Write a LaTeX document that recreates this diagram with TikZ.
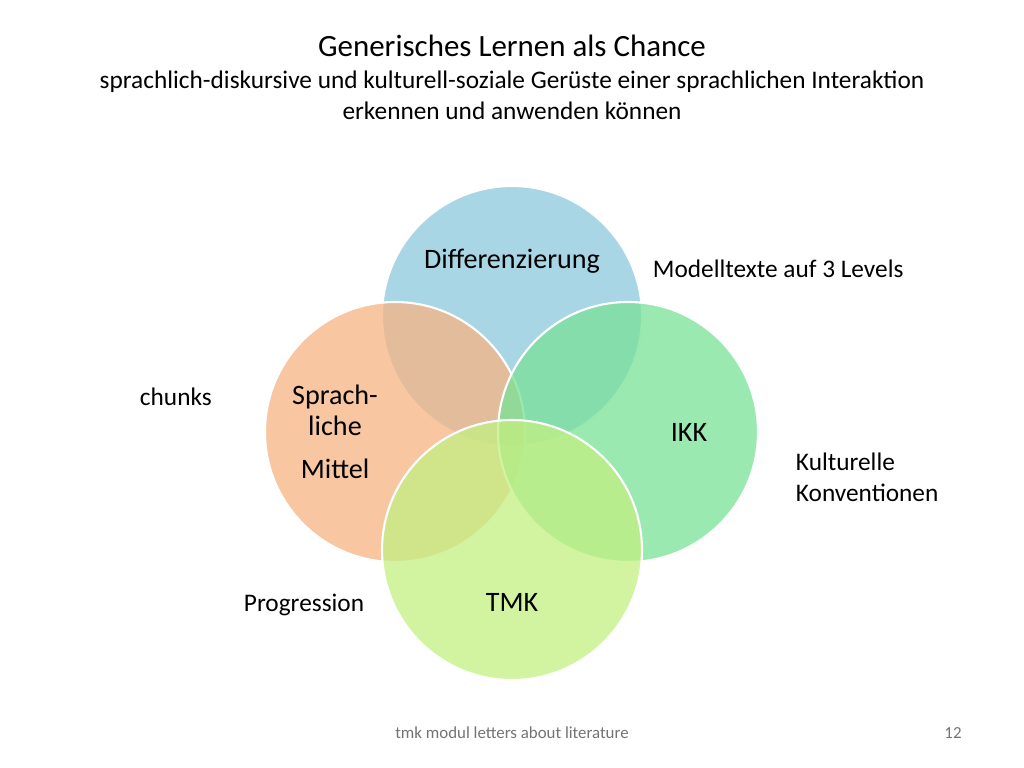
\documentclass[tikz,border=0pt]{standalone}
\usepackage{fontspec}
\setmainfont{Carlito}
\usetikzlibrary{positioning}
\definecolor{blauC}{RGB}{140,200,220}
\definecolor{orangeC}{RGB}{246,180,130}
\definecolor{gruenC}{RGB}{120,225,150}
\definecolor{hellC}{RGB}{195,240,130}

\begin{document}
\begin{tikzpicture}[
                x=0.025cm, y=-0.025cm,
                kreis/.style={circle, draw=white, line width=1.5pt, fill opacity=0.75, minimum size=260*0.025cm, inner sep=0pt},
                label/.style={font=\fontsize{20}{22}\selectfont, align=center},
                notiz/.style={font=\fontsize{18}{22}\selectfont, align=left},
            ]
                \useasboundingbox (0,0) rectangle (1024,768);

                % Titel
                \node[font=\fontsize{22}{26}\selectfont] (titel) at (512,46) {Generisches Lernen als Chance};
                \node[font=\fontsize{18}{22}\selectfont, align=center] (untertitel) at (512,95)
                    {sprachlich-diskursive und kulturell-soziale Gerüste einer sprachlichen Interaktion\\erkennen und anwenden können};

                % Kreise
                \node[kreis, fill=blauC] (diff) at (512,316) {};
                \node[kreis, fill=orangeC] (sprach) at (395,432) {};
                \node[kreis, fill=gruenC] (ikk) at (628,432) {};
                \node[kreis, fill=hellC] (tmk) at (512,550) {};

                % Beschriftungen
                \node[label] (l-diff) at (512,261) {Differenzierung};
                \node[label] (l-sprach) at (335,410) {Sprach-\\liche};
                \node[label] (l-mittel) at (335,469) {Mittel};
                \node[label] (l-ikk) at (689,432) {IKK};
                \node[label] (l-tmk) at (512,602) {TMK};

                % Notizen
                \node[notiz, anchor=west] (n-modell) at (648,269) {Modelltexte auf 3 Levels};
                \node[notiz, anchor=west] (n-chunks) at (135,397) {chunks};
                \node[notiz, anchor=west] (n-kult) at (791,477) {Kulturelle\\Konventionen};
                \node[notiz, anchor=west] (n-prog) at (239,605) {Progression};

                % Fusszeile
                \node[font=\fontsize{12}{14}\selectfont, text=black!55] (fuss) at (512,733) {tmk modul letters about literature};
                \node[font=\fontsize{12}{14}\selectfont, text=black!55] (seite) at (953,733) {12};
            \end{tikzpicture}
\end{document}
